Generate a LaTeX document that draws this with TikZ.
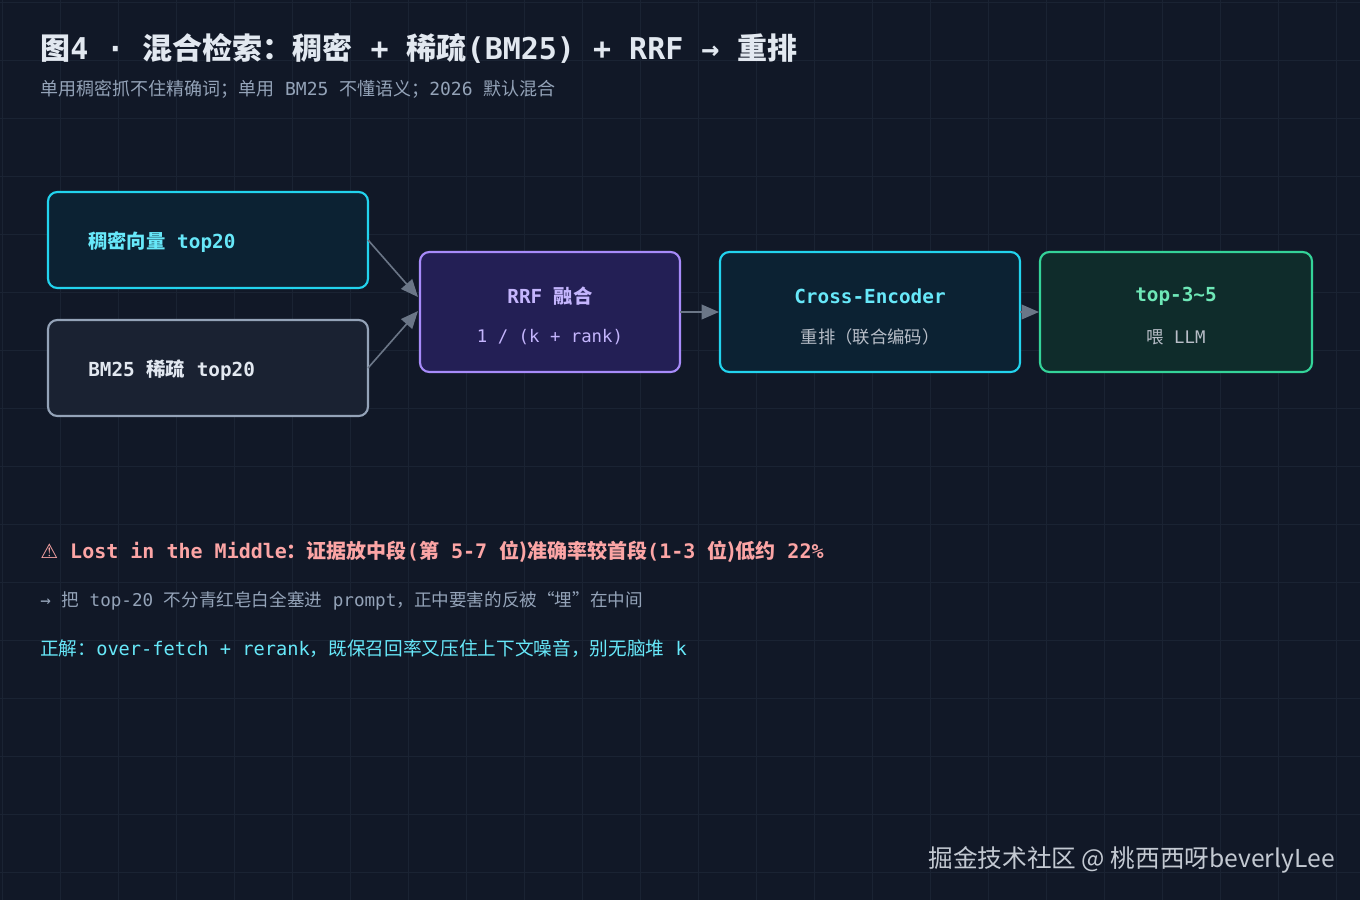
\documentclass[tikz,border=0pt]{standalone}
\usepackage{fontspec}
\setmainfont{DejaVu Sans Mono}
\newfontfamily\cjk{Noto Sans CJK SC}
\newcommand{\cj}[1]{{\cjk #1}}
\usetikzlibrary{arrows.meta}
\definecolor{bg}{HTML}{111827}
\definecolor{gridc}{HTML}{1A2333}
\definecolor{cyanS}{HTML}{22D3EE}
\definecolor{cyanF}{HTML}{0C2233}
\definecolor{grayS}{HTML}{94A3B8}
\definecolor{grayF}{HTML}{1A2232}
\definecolor{purS}{HTML}{A78BFA}
\definecolor{purF}{HTML}{231F55}
\definecolor{greS}{HTML}{34D399}
\definecolor{greF}{HTML}{0F2C2B}
\definecolor{titc}{HTML}{E2E8F0}
\definecolor{subc}{HTML}{94A3B8}
\definecolor{warnc}{HTML}{FCA5A5}
\definecolor{cyt}{HTML}{67E8F9}
\definecolor{grt}{HTML}{6EE7B7}
\definecolor{put}{HTML}{C4B5FD}
\definecolor{arr}{HTML}{6B7687}
\begin{document}
\begin{tikzpicture}[x=0.75pt,y=-0.75pt,
  box/.style={rounded corners=7pt,line width=1.6pt},
  conn/.style={draw=arr,line width=1.2pt,-{Triangle[length=13pt,width=11pt]}},
  lbl/.style={anchor=west,inner sep=0pt}]
\useasboundingbox (0,0) rectangle (1360,900);
\fill[bg] (0,0) rectangle (1360,900);
\foreach \i in {0,...,23} \draw[gridc,line width=0.6pt] (\i*58+2,0) -- (\i*58+2,900);
\foreach \j in {0,...,15} \draw[gridc,line width=0.6pt] (0,\j*58+2) -- (1360,\j*58+2);
% title
\node[lbl,text=titc,font=\fontsize{22.5}{26}\selectfont\bfseries] (title) at (40,48) {\cj{图}4 · \cj{混合检索：稠密} + \cj{稀疏}(BM25) + RRF → \cj{重排}};
\node[lbl,text=subc,font=\fontsize{13.5}{16}\selectfont] (sub) at (40,89) {\cj{单用稠密抓不住精确词；单用} BM25 \cj{不懂语义；}2026 \cj{默认混合}};
% boxes
\draw[box,draw=cyanS,fill=cyanF] (48,192) rectangle (368,288);
\node[lbl,text=cyt,font=\fontsize{14.5}{16}\selectfont\bfseries] (dense) at (88,242) {\cj{稠密向量} top20};
\draw[box,draw=grayS,fill=grayF] (48,320) rectangle (368,416);
\node[lbl,text=titc,font=\fontsize{14.5}{16}\selectfont\bfseries] (bm) at (88,370) {BM25 \cj{稀疏} top20};
\draw[box,draw=purS,fill=purF] (420,252) rectangle (680,372);
\node[text=put,font=\fontsize{14.5}{16}\selectfont\bfseries] (rrf) at (550,296) {RRF \cj{融合}};
\node[text=put,font=\fontsize{13}{15}\selectfont] (rrf2) at (550,337) {1 / (k + rank)};
\draw[box,draw=cyanS,fill=cyanF] (720,252) rectangle (1020,372);
\node[text=cyt,font=\fontsize{14.5}{16}\selectfont\bfseries] (ce) at (870,296) {Cross-Encoder};
\node[text=titc!80!bg,font=\fontsize{13}{15}\selectfont] (ce2) at (870,337) {\cj{重排（联合编码）}};
\draw[box,draw=greS,fill=greF] (1040,252) rectangle (1312,372);
\node[text=grt,font=\fontsize{14.5}{16}\selectfont\bfseries] (top) at (1176,296) {top-3\textasciitilde5};
\node[text=titc!80!bg,font=\fontsize{13}{15}\selectfont] (top2) at (1176,337) {\cj{喂} LLM};
% connectors
\coordinate (a1) at (368,240); \coordinate (b1) at (418,297);
\coordinate (a2) at (368,368); \coordinate (b2) at (418,311);
\coordinate (a3) at (680,312); \coordinate (b3) at (719,312);
\coordinate (a4) at (1020,312); \coordinate (b4) at (1039,312);
\draw[conn] (a1) -- (b1);
\draw[conn] (a2) -- (b2);
\draw[conn] (a3) -- (b3);
\draw[conn] (a4) -- (b4);
% notes
\node[lbl,text=warnc,font=\fontsize{15}{17}\selectfont\bfseries] (warn) at (40,552) {{\fontspec{DejaVu Sans}⚠} Lost in the Middle\cj{：证据放中段}(\cj{第} 5-7 \cj{位)准确率较首段}(1-3 \cj{位)低约} 22\%};
\node[lbl,text=subc,font=\fontsize{13.2}{16}\selectfont] (n2) at (40,601) {→ \cj{把} top-20 \cj{不分青红皂白全塞进} prompt\cj{，正中要害的反被“埋”在中间}};
\node[lbl,text=cyt,font=\fontsize{14}{16}\selectfont] (n3) at (40,649) {\cj{正解：}over-fetch + rerank\cj{，既保召回率又压住上下文噪音，别无脑堆} k};
\node[anchor=east,inner sep=0pt,text=titc!85!bg,font=\cjk\fontsize{18.5}{20}\selectfont] (wm) at (1335,860) {掘金技术社区 @ 桃西西呀beverlyLee};
\end{tikzpicture}
\end{document}
